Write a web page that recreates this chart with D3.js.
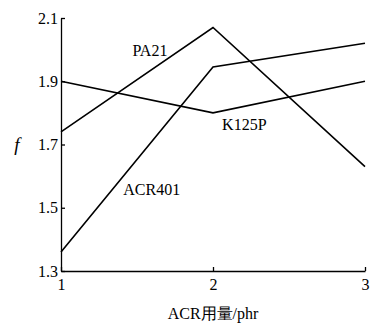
<!DOCTYPE html>
<html>
<head>
<meta charset="utf-8">
<script src="https://cdn.jsdelivr.net/npm/d3@7"></script>
<style>
  html, body { margin: 0; padding: 0; background: #fff; }
  #chart text { font-family: 'Liberation Serif', 'DejaVu Serif', serif !important; }
</style>
</head>
<body>
<div id="chart"></div>
<script>
// ACR dosage vs f, three processing aids
const doses = [1, 2, 3];
const yTicks = [1.3, 1.5, 1.7, 1.9, 2.1];
const pa21 = [1.74, 2.07, 1.63];
const k125p = [1.90, 1.80, 1.90];
const acr401 = [1.36, 1.945, 2.02];

const seriesNames = ['PA21', 'K125P', 'ACR401'];
const seriesValues = [pa21, k125p, acr401];

const width = 373;
const height = 327;
const margin = {top: 18, right: 8, bottom: 56, left: 61};

const svg = d3.select('#chart').append('svg')
  .attr('width', width)
  .attr('height', height);

const x = d3.scaleLinear()
  .domain([1, 3])
  .range([margin.left, width - margin.right]);

const y = d3.scaleLinear()
  .domain([1.3, 2.1])
  .range([height - margin.bottom, margin.top]);

// axes, ticks pointing inward
const xAxis = svg.append('g')
  .attr('transform', `translate(0,${height - margin.bottom})`)
  .call(d3.axisBottom(x).tickValues(doses).tickFormat(d3.format('d')).tickSizeInner(-4).tickSizeOuter(0).tickPadding(8));
xAxis.attr('font-family', null).attr('font-size', 16);
xAxis.selectAll('text').attr('fill', '#000');
xAxis.selectAll('line, path').attr('stroke', '#000').attr('stroke-width', 1.3);

const yAxis = svg.append('g')
  .attr('transform', `translate(${margin.left},0)`)
  .call(d3.axisLeft(y).tickValues(yTicks).tickFormat(d3.format('.1f')).tickSizeInner(-4).tickSizeOuter(0).tickPadding(3));
yAxis.attr('font-family', null).attr('font-size', 16);
yAxis.selectAll('text').attr('fill', '#000');
yAxis.selectAll('line, path').attr('stroke', '#000').attr('stroke-width', 1.3);

// lines
const line = d3.line()
  .x((d, i) => x(doses[i]))
  .y(d => y(d));

seriesValues.forEach(vals => {
  svg.append('path')
    .datum(vals)
    .attr('d', line)
    .attr('fill', 'none')
    .attr('stroke', '#000')
    .attr('stroke-width', 1.6);
});

// series labels
const labelPos = [
  {x: 1.47, y: 1.98},
  {x: 2.06, y: 1.745},
  {x: 1.41, y: 1.54}
];
seriesNames.forEach((name, i) => {
  svg.append('text')
    .attr('x', x(labelPos[i].x))
    .attr('y', y(labelPos[i].y))
    .attr('font-size', 16)
    .text(name);
});

// axis titles
svg.append('text')
  .attr('x', 17)
  .attr('y', 151)
  .attr('text-anchor', 'middle')
  .attr('font-size', 19)
  .attr('font-style', 'italic')
  .text('f');

svg.append('text')
  .attr('x', x(2))
  .attr('y', 319)
  .attr('text-anchor', 'middle')
  .attr('font-size', 16)
  .text('ACR用量/phr');
</script>
</body>
</html>
